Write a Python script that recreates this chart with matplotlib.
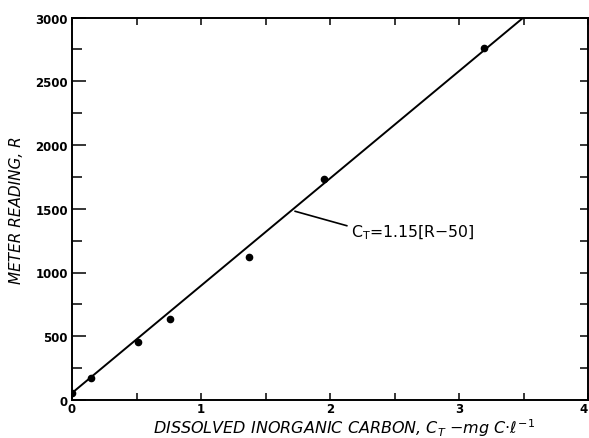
import matplotlib
matplotlib.use("Agg")
import matplotlib.pyplot as plt
from matplotlib.ticker import MultipleLocator

# Measured calibration points
carbon = [0.0, 0.15, 0.51, 0.76, 1.37, 1.95, 3.19]
reading = [55, 175, 456, 636, 1121, 1736, 2757]

# Calibration line end points
line_c = [0.0, 3.5]
line_r = [55, 3000]

x_ticks = [0, 1, 2, 3, 4]
y_ticks = [0, 500, 1000, 1500, 2000, 2500, 3000]

fig = plt.figure(figsize=(5.89, 4.39), dpi=100)
ax = fig.add_axes([72 / 589, 38 / 439, 516 / 589, 382.5 / 439])

ax.plot(line_c, line_r, color="black", lw=1.4, solid_capstyle="butt")
ax.plot(carbon, reading, "o", color="black", ms=4.5)

ax.set_xlim(0, 4)
ax.set_ylim(0, 3000)
ax.set_xticks(x_ticks)
ax.set_xticklabels([str(v) for v in x_ticks])
ax.set_yticks(y_ticks)
ax.set_yticklabels([str(v) for v in y_ticks])
ax.xaxis.set_minor_locator(MultipleLocator(0.5))
ax.yaxis.set_minor_locator(MultipleLocator(250))

ax.tick_params(which="both", direction="in", top=True, right=True,
               labelsize=8.5, width=1.1, color="black", pad=3)
ax.tick_params(axis="y", which="major", length=10)
ax.tick_params(axis="y", which="minor", length=7)
ax.tick_params(axis="x", which="both", length=5, pad=1.5)
for lab in ax.get_xticklabels() + ax.get_yticklabels():
    lab.set_fontweight("bold")
ax.get_xticklabels()[-1].set_horizontalalignment("right")

# shorter ticks on the right-hand axis
for t in ax.yaxis.get_major_ticks() + ax.yaxis.get_minor_ticks():
    t.tick2line.set_markersize(6)

for sp in ax.spines.values():
    sp.set_linewidth(1.4)

ax.set_ylabel("METER READING, R", fontsize=11, fontstyle="italic", labelpad=8)
ax.set_xlabel(r"DISSOLVED INORGANIC CARBON, $C_T$ $-$mg C$\cdot\ell^{-1}$",
              fontsize=11.5, fontstyle="italic", va="center")
ax.xaxis.set_label_coords(0.527, -0.071)

# leader from the line to the equation
ax.plot([1.73, 2.13], [1480, 1367], color="black", lw=1.2)
ax.text(2.16, 1320, r"C$_{\mathregular{T}}$=1.15[R$-$50]",
        fontsize=11.3, va="center", ha="left")

fig.savefig("out.png", dpi=100)
